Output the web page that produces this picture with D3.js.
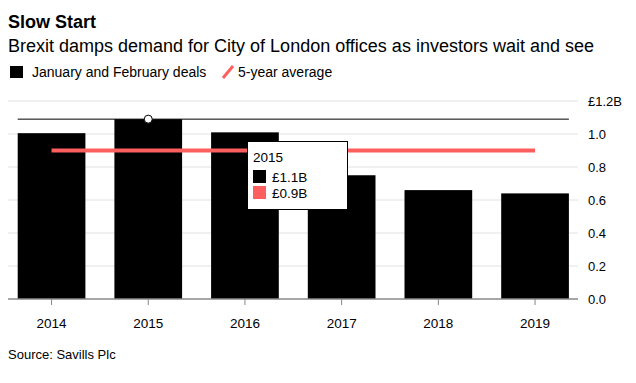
<!DOCTYPE html>
<html><head><meta charset="utf-8">
<script src="https://cdn.jsdelivr.net/npm/d3@7"></script>
<style>body{margin:0;background:#fff}svg{display:block;font-family:"Liberation Sans",Arial,Helvetica,sans-serif}</style>
</head><body><svg id="c" width="636" height="383"></svg>
<script>
const years = ["2014","2015","2016","2017","2018","2019"];
const deals = [1.005, 1.09, 1.01, 0.75, 0.66, 0.64];
const average = [0.90, 0.90, 0.90, 0.90, 0.90, 0.90];
const yTicks = [0, 0.2, 0.4, 0.6, 0.8, 1.0, 1.2];
const hoverIndex = 1;

const svg = d3.select("#c");
const x = d3.scaleBand().domain(years).range([3.2, 583.4]).paddingInner(0.3).paddingOuter(0.15);
const y = d3.scaleLinear().domain([0, 1.2]).range([299, 101]);
const red = "#fd5f5f";

svg.append("text").attr("x", 8).attr("y", 28).attr("font-size", 18).attr("font-weight", "bold").attr("fill", "#000").text("Slow Start");
svg.append("text").attr("x", 8).attr("y", 52).attr("font-size", 18).attr("fill", "#000").text("Brexit damps demand for City of London offices as investors wait and see");

// legend
svg.append("rect").attr("x", 10).attr("y", 66).attr("width", 13).attr("height", 12).attr("fill", "#000");
svg.append("text").attr("x", 32).attr("y", 77).attr("font-size", 14).text("January and February deals");
svg.append("line").attr("x1", 223).attr("y1", 78).attr("x2", 233).attr("y2", 66).attr("stroke", red).attr("stroke-width", 3);
svg.append("text").attr("x", 238).attr("y", 77).attr("font-size", 14).text("5-year average");

// grid
svg.append("g").selectAll("line").data(yTicks.filter(d => d > 0)).join("line")
  .attr("x1", 8).attr("x2", 578).attr("y1", d => y(d)).attr("y2", d => y(d))
  .attr("stroke", "#e2e2e2").attr("stroke-width", 1);

// y axis labels
const yFmt = d => d === 1.2 ? "£1.2B" : d3.format(".1f")(d);
svg.append("g").selectAll("text").data(yTicks).join("text")
  .attr("x", 588).attr("y", d => y(d) + 4.5).attr("font-size", 13).attr("fill", "#000").text(yFmt);

// bars
svg.append("g").selectAll("rect").data(deals).join("rect")
  .attr("x", (d, i) => x(years[i])).attr("width", x.bandwidth())
  .attr("y", d => y(d)).attr("height", d => y(0) - y(d)).attr("fill", "#000");

// average line
const avgLine = d3.line().x((d, i) => x(years[i]) + x.bandwidth() / 2).y(d => y(d));
svg.append("path").attr("d", avgLine(average)).attr("fill", "none").attr("stroke", red).attr("stroke-width", 4);

// x axis
svg.append("line").attr("x1", 8).attr("x2", 578).attr("y1", 299).attr("y2", 299).attr("stroke", "#888").attr("stroke-width", 1.5);
svg.append("g").selectAll("line").data(years).join("line")
  .attr("x1", d => x(d) + x.bandwidth() / 2).attr("x2", d => x(d) + x.bandwidth() / 2)
  .attr("y1", 299).attr("y2", 305).attr("stroke", "#888");
svg.append("g").selectAll("text").data(years).join("text")
  .attr("x", d => x(d) + x.bandwidth() / 2).attr("y", 328).attr("text-anchor", "middle").attr("font-size", 13.5).text(d => d);

// hover line + marker
svg.append("line").attr("x1", x(years[0])).attr("x2", x(years[5]) + x.bandwidth())
  .attr("y1", y(deals[hoverIndex])).attr("y2", y(deals[hoverIndex])).attr("stroke", "#000").attr("stroke-width", 1);
svg.append("circle").attr("cx", x(years[hoverIndex]) + x.bandwidth() / 2).attr("cy", y(deals[hoverIndex]))
  .attr("r", 4).attr("fill", "#fff").attr("stroke", "#000").attr("stroke-width", 1);

// tooltip
const tt = svg.append("g").attr("transform", "translate(247,141)");
tt.append("rect").attr("x", 0.5).attr("y", 0.5).attr("width", 100).attr("height", 68).attr("fill", "#fff").attr("stroke", "#000");
tt.append("text").attr("x", 6).attr("y", 21).attr("font-size", 13.5).text(years[hoverIndex]);
tt.append("rect").attr("x", 6).attr("y", 29).attr("width", 13).attr("height", 13).attr("fill", "#000");
tt.append("text").attr("x", 25).attr("y", 41).attr("font-size", 13.5).text("£" + d3.format(".1f")(deals[hoverIndex]) + "B");
tt.append("rect").attr("x", 6).attr("y", 45).attr("width", 13).attr("height", 13).attr("fill", red);
tt.append("text").attr("x", 25).attr("y", 57).attr("font-size", 13.5).text("£" + d3.format(".1f")(average[hoverIndex]) + "B");

svg.append("text").attr("x", 8).attr("y", 359).attr("font-size", 13).attr("fill", "#000").text("Source: Savills Plc");
</script></body></html>
